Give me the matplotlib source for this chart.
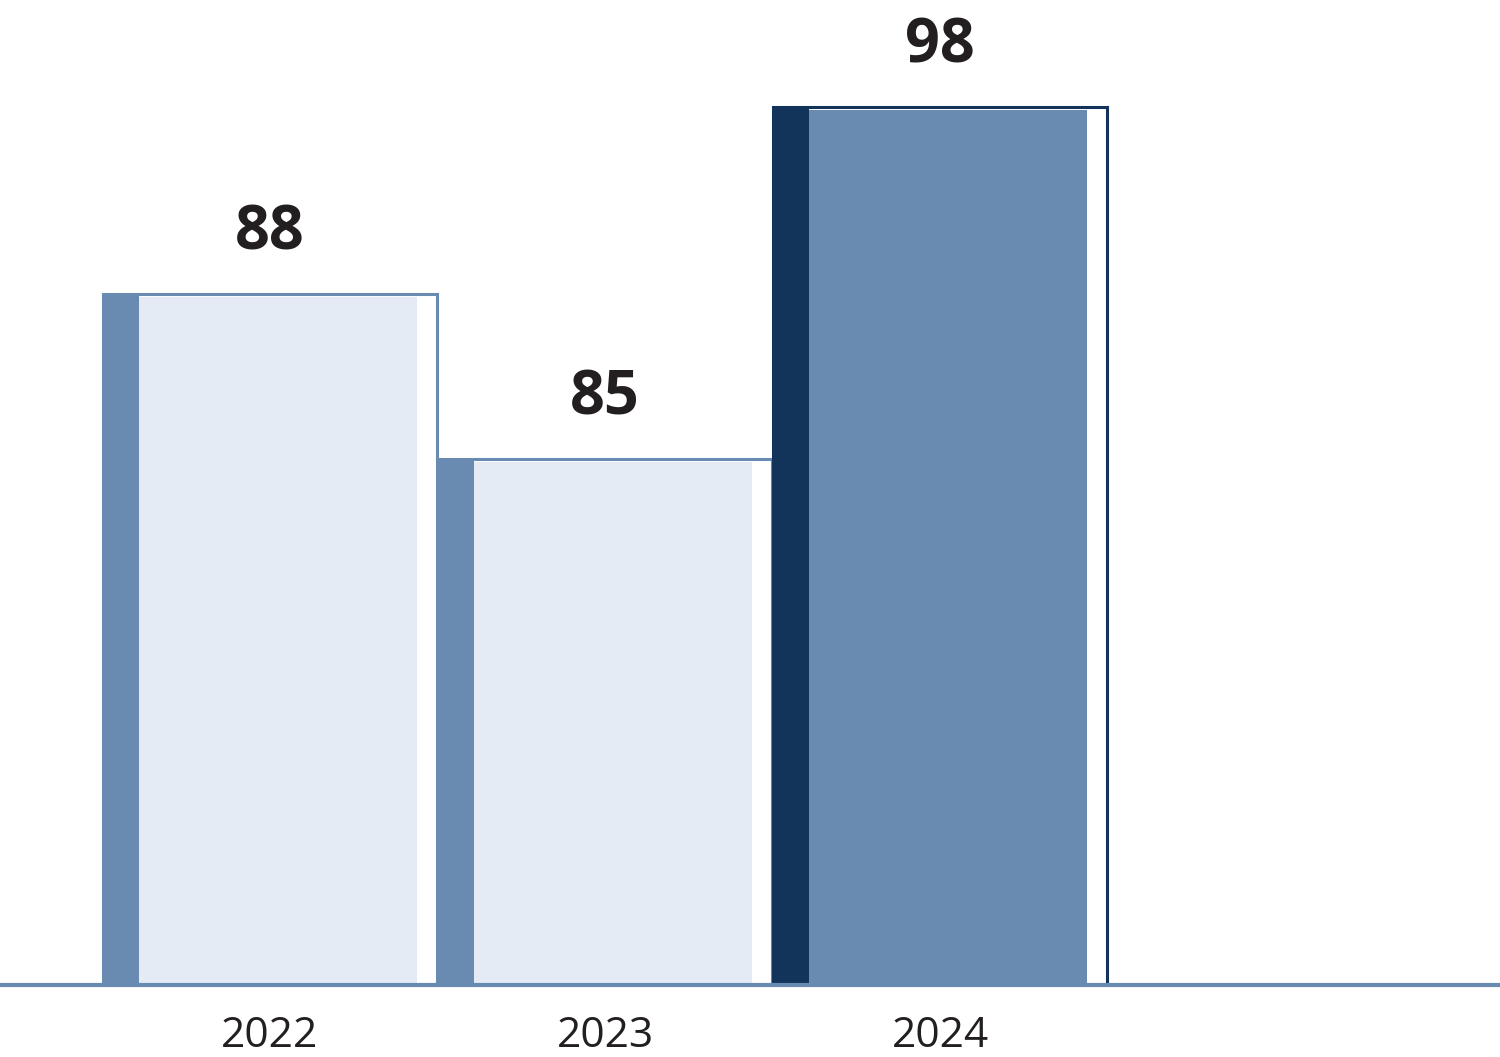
import matplotlib.pyplot as plt

# Chart data
years = ['2022', '2023', '2024']
value_labels = [88, 85, 98]
# bar heights as drawn (the picture does not scale bars linearly with labels)
bar_heights = [77.1, 58.7, 98.0]

# Colours
light_fill = '#e4ebf5'
mid_blue = '#6a8bb1'
dark_blue = '#13345a'
text_color = '#231f20'

strip_colors = [mid_blue, mid_blue, dark_blue]
fill_colors = [light_fill, light_fill, mid_blue]

plt.rcParams['font.family'] = ['Open Sans', 'DejaVu Sans']

fig = plt.figure(figsize=(15, 10.57), dpi=100)
# baseline sits 72 px above the bottom edge
ax = fig.add_axes([0, 72 / 1057, 1, 985 / 1057])

px = 1 / 335  # one pixel in x data units (bar width = 335 px)
x = list(range(len(years)))
left = [i - 0.5 for i in x]

# Outline of each bar (top and right edge)
ax.bar(left, bar_heights, width=1.0 - 1 * px, align='edge',
       facecolor='white', edgecolor=strip_colors, linewidth=2.2, zorder=1)
# Left strip
ax.bar(left, bar_heights, width=36 * px, align='edge',
       color=strip_colors, linewidth=0, zorder=2)
# Main fill, leaving a white gap on the right
ax.bar([l + 36 * px for l in left], [h - 3.2 * 110 / 985 for h in bar_heights],
       width=278 * px, align='edge', color=fill_colors, linewidth=0, zorder=2)

for i, (h, v) in enumerate(zip(bar_heights, value_labels)):
    ax.annotate(str(v), (x[i], h), xytext=(0, 32), textcoords='offset points',
                ha='center', va='baseline', fontsize=44, fontweight='bold',
                color=text_color)
    ax.annotate(years[i], (x[i], 0), xytext=(0, -44.5), textcoords='offset points',
                ha='center', va='baseline', fontsize=30.5, color=text_color,
                annotation_clip=False)

ax.axhline(0, color=mid_blue, linewidth=3, zorder=3, clip_on=False)

ax.set_xlim(-270 * px, -270 * px + 1500 * px)
ax.set_ylim(0, 98 * 985 / 878)
ax.axis('off')

fig.savefig('out.png', dpi=100)
